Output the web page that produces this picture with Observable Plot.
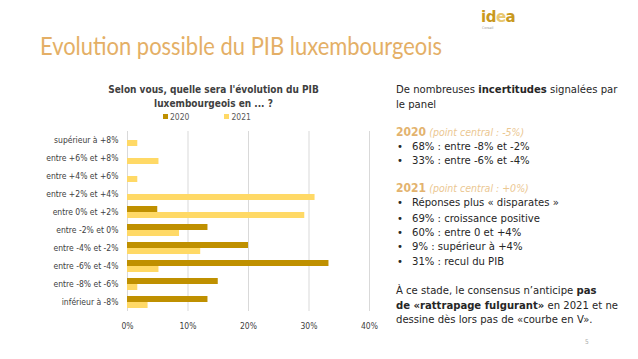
<!DOCTYPE html>
<html><head><meta charset="utf-8">
<script src="https://cdn.jsdelivr.net/npm/d3@7"></script>
<script src="https://cdn.jsdelivr.net/npm/@observablehq/plot@0.6"></script>
<style>
html,body{margin:0;padding:0;background:#fff;}
#page{position:relative;width:638px;height:359px;overflow:hidden;font-family:"DejaVu Sans Condensed","DejaVu Sans",sans-serif;color:#262626;}
.abs{position:absolute;white-space:nowrap;line-height:1;}
.t{font-size:11.2px;}
.tan{color:#E3B36E;}
.b{font-weight:bold;}
</style></head>
<body><div id="page">
<div class="abs" id="title" style="left:40px;top:33px;font-family:Lato,sans-serif;font-size:25px;color:#E4AF66;">Evolution possible du PIB luxembourgeois</div>
<div class="abs" style="left:481px;top:10px;font-family:'DejaVu Sans',sans-serif;font-weight:bold;font-size:15px;letter-spacing:-0.5px;"><span style="color:#C9991E">id</span><span style="color:#E8C770">e</span><span style="color:#C9991E">a</span></div>
<div class="abs" style="left:482px;top:27px;font-size:3.5px;color:#999;">Conseil</div>
<div class="abs b" style="left:0;width:427px;text-align:center;top:85px;font-size:10px;color:#404040;">Selon vous, quelle sera l'évolution du PIB</div>
<div class="abs b" style="left:0;width:427px;text-align:center;top:99px;font-size:10px;color:#404040;">luxembourgeois en ... ?</div>
<div id="legend" class="abs" style="left:163px;top:113px;font-size:8.5px;color:#595959;"></div>
<div id="chart" style="position:absolute;left:0;top:128px;"></div>
<div id="right"></div>
<div class="abs" style="left:585px;top:339px;font-size:6.5px;color:#aaa;">5</div>
</div>
<script>
const categories = ["supérieur à +8%","entre +6% et +8%","entre +4% et +6%","entre +2% et +4%","entre 0% et +2%","entre -2% et 0%","entre -4% et -2%","entre -6% et -4%","entre -8% et -6%","inférieur à -8%"];
const series = ["2020","2021"];
const values2020 = [0,0,0,0,5.0,13.3,20.0,33.3,15.0,13.3];
const values2021 = [1.7,5.2,1.7,31.0,29.3,8.6,12.1,5.2,1.7,3.4];
const xTicks = [0,10,20,30,40];
const colors = ["#BF9000","#FFD966"];

const data = [];
categories.forEach((c,i)=>{
  data.push({category:c, series:"2020", value:values2020[i]});
  data.push({category:c, series:"2021", value:values2021[i]});
});

const chart = Plot.plot({
  width: 380, height: 212,
  marginLeft: 127, marginRight: 11, marginTop: 2, marginBottom: 28,
  style: {fontFamily: '"DejaVu Sans Condensed","DejaVu Sans",sans-serif', fontSize: "8.5px", color: "#404040", background: "transparent"},
  x: {domain: [0,40], ticks: xTicks, tickFormat: d => d + "%", tickSize: 0, tickPadding: 11, label: null},
  fy: {domain: categories, padding: 0, label: null, tickSize: 0, tickPadding: 9, axis: "left"},
  y: {domain: series, paddingInner: 0, paddingOuter: 0.35, axis: null},
  color: {domain: series, range: colors},
  marks: [
    Plot.gridX(xTicks, {stroke: "#d9d9d9", strokeOpacity: 1}),
    Plot.barX(data, {x: "value", y: "series", fy: "category", fill: "series"})
  ]
});
document.getElementById("chart").appendChild(chart);

// legend
const lg = document.getElementById("legend");
lg.innerHTML = series.map((s,i)=>`<span style="display:inline-block;width:5px;height:5px;background:${colors[i]};margin-right:2px;vertical-align:1px"></span>${s}`).join('<span style="display:inline-block;width:35px"></span>');

// right text
const head = (y, c) => `<span class="tan b" style="font-size:12px">${y}</span> <span class="tan" style="font-style:italic;font-size:10.5px;color:#EBC792">(point central : ${c})</span>`;
const lines = [
  [396, 84, 'De nombreuses <b>incertitudes</b> signalées par'],
  [396, 99, 'le panel'],
  [396, 126, head("2020", "-5%")],
  [396, 141, '•', '68% : entre -8% et -2%'],
  [396, 155, '•', '33% : entre -6% et -4%'],
  [396, 182, head("2021", "+0%")],
  [396, 197, '•', 'Réponses plus « disparates »'],
  [396, 213, '•', '69% : croissance positive'],
  [396, 227, '•', '60% : entre 0 et +4%'],
  [396, 241, '•', '9% : supérieur à +4%'],
  [396, 256, '•', '31% : recul du PIB'],
  [396, 285, 'À ce stade, le consensus n’anticipe <b>pas</b>'],
  [396, 300, '<b>de «rattrapage fulgurant»</b> en 2021 et ne'],
  [396, 314, 'dessine dès lors pas de «courbe en V».']
];
const right = document.getElementById("right");
for (const l of lines) {
  if (l.length === 4) {
    right.insertAdjacentHTML("beforeend", `<div class="abs t" style="left:${l[0]+1}px;top:${l[1]}px">${l[2]}</div><div class="abs t" style="left:${l[0]+16}px;top:${l[1]}px">${l[3]}</div>`);
  } else {
    right.insertAdjacentHTML("beforeend", `<div class="abs t" style="left:${l[0]}px;top:${l[1]}px">${l[2]}</div>`);
  }
}

// fit title width to reference
const t = document.getElementById("title");
const w = t.getBoundingClientRect().width;
t.style.transformOrigin = "left top";
t.style.transform = `scaleX(${402 / w})`;
</script>
</body></html>
